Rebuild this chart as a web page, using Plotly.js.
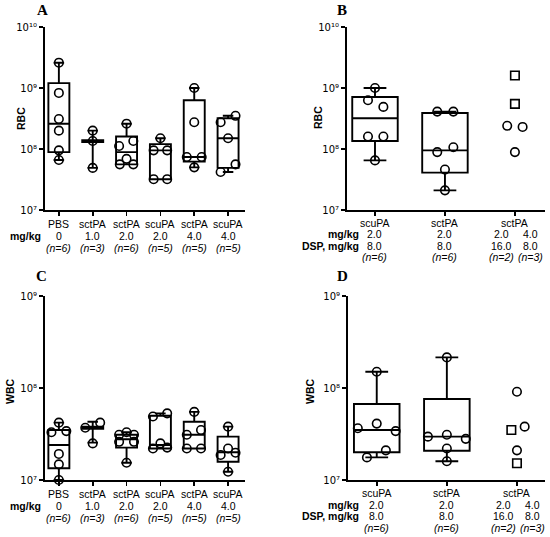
<!DOCTYPE html>
<html>
<head>
<meta charset="utf-8">
<script src="https://cdn.plot.ly/plotly-3.0.1.min.js"></script>
<style>html,body{margin:0;padding:0;background:#fff;}#plot{width:550px;height:537px;}</style>
</head>
<body>
<div id="plot"></div>
<script>
// ---------- DATA ----------
// Panels A & C categories
const namesAC = ['PBS', 'sctPA', 'sctPA', 'scuPA', 'sctPA', 'scuPA'];
const dosesAC = ['0', '1.0', '2.0', '2.0', '4.0', '4.0'];
const nAC = ['(n=6)', '(n=3)', '(n=6)', '(n=5)', '(n=5)', '(n=5)'];

// Panel A: RBC box statistics
const q1A  = [8.9e7, 1.30e8, 5.6e7, 3.2e7, 6.2e7, 4.9e7];
const medA = [2.6e8, 1.35e8, 8.9e7, 9.5e7, 7.4e7, 1.5e8];
const q3A  = [1.2e9, 1.40e8, 1.6e8, 1.2e8, 6.3e8, 3.2e8];
const loA  = [6.6e7, 4.9e7, 5.6e7, 3.2e7, 5.0e7, 4.2e7];
const hiA  = [2.6e9, 2.0e8, 2.6e8, 1.5e8, 1.0e9, 3.5e8];
// Panel A: individual points per group
const ptsA = [
  [2.6e9, 8.3e8, 3.1e8, 2.0e8, 9.5e7, 6.6e7],
  [2.0e8, 1.35e8, 4.9e7],
  [2.6e8, 1.35e8, 1.12e8, 6.9e7, 5.6e7, 5.6e7],
  [1.5e8, 9.5e7, 9.5e7, 3.2e7, 3.2e7],
  [1.0e9, 2.75e8, 7.4e7, 7.4e7, 5.0e7],
  [3.5e8, 2.75e8, 1.5e8, 5.6e7, 4.2e7]
];
const jitA = [
  [0, 0, 0, 0, 0, 0],
  [0, 0, 0],
  [0, 0.2, -0.22, 0, -0.2, 0.2],
  [0, -0.2, 0.2, -0.2, 0.2],
  [0, 0, -0.22, 0.22, 0],
  [0.22, -0.22, 0, 0.22, -0.22]
];

// Panel C: WBC box statistics
const q1C  = [1.34e7, 3.6e7, 2.25e7, 2.2e7, 2.2e7, 1.58e7];
const medC = [2.4e7, 3.7e7, 2.77e7, 2.4e7, 3.1e7, 2.0e7];
const q3C  = [3.5e7, 3.8e7, 3.1e7, 5.0e7, 4.3e7, 2.96e7];
const loC  = [1.0e7, 2.55e7, 1.54e7, 2.2e7, 2.2e7, 1.23e7];
const hiC  = [4.2e7, 4.3e7, 3.3e7, 5.3e7, 5.5e7, 3.8e7];
const ptsC = [
  [4.2e7, 3.4e7, 3.3e7, 1.92e7, 1.48e7, 1.0e7],
  [4.2e7, 3.7e7, 2.5e7],
  [3.3e7, 3.1e7, 3.1e7, 2.6e7, 2.6e7, 1.54e7],
  [5.3e7, 4.9e7, 2.5e7, 2.25e7, 2.2e7],
  [5.5e7, 3.5e7, 3.1e7, 2.2e7, 2.2e7],
  [3.8e7, 2.2e7, 1.98e7, 1.87e7, 1.23e7]
];
const jitC = [
  [0, 0.22, -0.22, 0, 0, 0],
  [0.22, -0.22, 0],
  [0, -0.22, 0.22, -0.22, 0.22, 0],
  [0.2, -0.22, 0, 0.2, -0.22],
  [0, 0.2, -0.22, -0.22, 0.2],
  [0, 0, 0.22, -0.22, 0]
];

// Panels B & D categories
const namesBD = ['scuPA', 'sctPA', 'sctPA'];
const subColsBD = [   // label sub-columns: group, offset, dose, DSP dose, n
  {g: 0, off: 0,     dose: '2.0', dsp: '8.0',  n: '(n=6)'},
  {g: 1, off: 0,     dose: '2.0', dsp: '8.0',  n: '(n=6)'},
  {g: 2, off: -0.19, dose: '2.0', dsp: '16.0', n: '(n=2)'},
  {g: 2, off: 0.22,  dose: '4.0', dsp: '8.0',  n: '(n=3)'}
];

// Panel B: RBC
const q1B  = [1.35e8, 4.1e7];
const medB = [3.2e8, 9.5e7];
const q3B  = [7.1e8, 3.9e8];
const loB  = [6.5e7, 2.1e7];
const hiB  = [1.0e9, 4.1e8];
const ptsB = [
  [1.0e9, 6.3e8, 4.9e8, 1.6e8, 1.6e8, 6.5e7],
  [4.1e8, 4.1e8, 1.07e8, 8.9e7, 4.6e7, 2.1e7]
];
const jitB = [
  [0, -0.1, 0.12, -0.1, 0.12, 0],
  [-0.11, 0.12, 0.12, -0.11, 0, 0]
];
const circB = [2.4e8, 2.3e8, 8.9e7];   // sctPA 4.0 / DSP 8.0
const circBJit = [-0.11, 0.11, 0];
const sqB = [1.6e9, 5.5e8];            // sctPA 2.0 / DSP 16.0
const sqBJit = [0, 0];

// Panel D: WBC
const q1D  = [2.0e7, 2.08e7];
const medD = [3.5e7, 2.96e7];
const q3D  = [6.7e7, 7.6e7];
const loD  = [1.76e7, 1.6e7];
const hiD  = [1.5e8, 2.15e8];
const ptsD = [
  [1.5e8, 4.1e7, 3.65e7, 3.4e7, 2.1e7, 1.76e7],
  [2.15e8, 3.1e7, 2.96e7, 2.8e7, 2.2e7, 1.6e7]
];
const jitD = [
  [0, 0, -0.27, 0.27, 0.13, -0.14],
  [0, 0, -0.27, 0.27, 0, 0]
];
const circD = [9.1e7, 3.8e7, 2.1e7];
const circDJit = [0, 0.11, 0];
const sqD = [3.5e7, 1.52e7];
const sqDJit = [-0.08, 0];

const yTicksRBC = [1e7, 1e8, 1e9, 1e10];
const yTickTextRBC = ['10\u2077', '10\u2078', '10\u2079', '10\u00B9\u2070'];
const yTicksWBC = [1e7, 1e8, 1e9];
const yTickTextWBC = ['10\u2077', '10\u2078', '10\u2079'];

// ---------- BUILD ----------
const W = 550, H = 537;
const px = p => p / W;
const py = p => 1 - p / H;
const FONT = 'Liberation Sans, Arial, sans-serif';
const SERIF = 'Liberation Serif, Times New Roman, serif';

const traces = [];
function boxTrace(xa, ya, q1, med, q3, lo, hi, width) {
  return {
    type: 'box', xaxis: xa, yaxis: ya,
    x: q1.map((_, i) => i),
    q1: q1, median: med, q3: q3, lowerfence: lo, upperfence: hi,
    width: width, whiskerwidth: 0.5,
    boxpoints: false,
    fillcolor: 'rgba(255,255,255,0)',
    line: {color: '#000', width: 1.9},
    hoverinfo: 'skip', showlegend: false
  };
}
function pointTrace(xa, ya, xs, ys, symbol) {
  return {
    type: 'scatter', mode: 'markers', xaxis: xa, yaxis: ya,
    x: xs, y: ys,
    marker: {symbol: symbol, size: 8.5, color: '#000', line: {color: '#000', width: 1.6}},
    hoverinfo: 'skip', showlegend: false, cliponaxis: false
  };
}
function groupPoints(xa, ya, pts, jit) {
  const xs = [], ys = [];
  pts.forEach((arr, g) => arr.forEach((v, k) => { xs.push(g + jit[g][k]); ys.push(v); }));
  return pointTrace(xa, ya, xs, ys, 'circle-open');
}

traces.push(boxTrace('x', 'y', q1A, medA, q3A, loA, hiA, 0.62));
traces.push(groupPoints('x', 'y', ptsA, jitA));
traces.push(boxTrace('x2', 'y2', q1B, medB, q3B, loB, hiB, 0.65));
traces.push(groupPoints('x2', 'y2', ptsB, jitB));
traces.push(pointTrace('x2', 'y2', circBJit.map(o => 2 + o), circB, 'circle-open'));
traces.push(pointTrace('x2', 'y2', sqBJit.map(o => 2 + o), sqB, 'square-open'));
traces.push(boxTrace('x3', 'y3', q1C, medC, q3C, loC, hiC, 0.62));
traces.push(groupPoints('x3', 'y3', ptsC, jitC));
traces.push(boxTrace('x4', 'y4', q1D, medD, q3D, loD, hiD, 0.65));
traces.push(groupPoints('x4', 'y4', ptsD, jitD));
traces.push(pointTrace('x4', 'y4', circDJit.map(o => 2 + o), circD, 'circle-open'));
traces.push(pointTrace('x4', 'y4', sqDJit.map(o => 2 + o), sqD, 'square-open'));

function xAxis(dom, range, n, anchor) {
  return {
    domain: dom, range: range, anchor: anchor,
    showline: true, linecolor: '#000', linewidth: 2,
    ticks: 'outside', ticklen: 4, tickwidth: 1.6, tickcolor: '#000',
    tickmode: 'array', tickvals: Array.from({length: n}, (_, i) => i),
    showticklabels: false, showgrid: false, zeroline: false, fixedrange: true
  };
}
function yAxis(dom, range, tv, tt, anchor) {
  return {
    domain: dom, type: 'log', range: range, anchor: anchor,
    showline: true, linecolor: '#000', linewidth: 2,
    ticks: 'outside', ticklen: 4, tickwidth: 1.6, tickcolor: '#000',
    tickmode: 'array', tickvals: tv, ticktext: tt,
    tickfont: {family: 'DejaVu Sans, sans-serif', size: 10, color: '#000'},
    showgrid: false, zeroline: false, fixedrange: true
  };
}

const ann = [];
function txt(x, y, text, opts, fontOpts) {
  ann.push(Object.assign({
    x: x, y: py(y), xref: 'paper', yref: 'paper', text: text, showarrow: false,
    xanchor: 'center', yanchor: 'middle',
    font: Object.assign({family: FONT, size: 10.5, color: '#000'}, fontOpts || {})
  }, opts || {}));
}
const BOLD = {weight: 'bold'};
const ITAL = {style: 'italic'};
// category labels A & C
[['x', [224, 236, 248]], ['x3', [494, 506, 518]]].forEach(([xr, rows]) => {
  namesAC.forEach((nm, i) => {
    txt(i, rows[0], nm, {xref: xr});
    txt(i, rows[1], dosesAC[i], {xref: xr});
    txt(i, rows[2], nAC[i], {xref: xr}, ITAL);
  });
  txt(px(43), rows[1], 'mg/kg', {xanchor: 'right'}, BOLD);
});
// category labels B & D
[['x2', [223, 234.3, 245.6, 257]], ['x4', [493, 504.5, 516, 527.5]]].forEach(([xr, rows]) => {
  namesBD.forEach((nm, i) => txt(i, rows[0], nm, {xref: xr}));
  subColsBD.forEach(c => {
    const xx = c.g + c.off;
    txt(xx, rows[1], c.dose, {xref: xr});
    txt(xx, rows[2], c.dsp, {xref: xr});
    txt(xx, rows[3], c.n, {xref: xr}, ITAL);
  });
  txt(px(361), rows[1], 'mg/kg', {xanchor: 'right'}, BOLD);
  txt(px(361), rows[2], 'DSP, mg/kg', {xanchor: 'right'}, BOLD);
});
// y titles
txt(px(21), 119, 'RBC', {textangle: -90}, BOLD);
txt(px(318), 118, 'RBC', {textangle: -90}, BOLD);
txt(px(10), 392, 'WBC', {textangle: -90}, BOLD);
txt(px(310), 392, 'WBC', {textangle: -90}, BOLD);
// panel letters
txt(px(42), 10, 'A', {}, {family: SERIF, size: 15, weight: 'bold'});
txt(px(342), 10, 'B', {}, {family: SERIF, size: 15, weight: 'bold'});
txt(px(41), 276, 'C', {}, {family: SERIF, size: 15, weight: 'bold'});
txt(px(342), 276, 'D', {}, {family: SERIF, size: 15, weight: 'bold'});

const layout = {
  width: W, height: H,
  margin: {l: 0, r: 0, t: 0, b: 0, pad: 0},
  paper_bgcolor: '#fff', plot_bgcolor: '#fff',
  showlegend: false,
  font: {family: FONT, color: '#000'},
  xaxis:  xAxis([px(45), px(245)], [-0.41, 5.5], 6, 'y'),
  yaxis:  yAxis([py(210), py(27)], [7, 10], yTicksRBC, yTickTextRBC, 'x'),
  xaxis2: xAxis([px(347), px(545)], [-0.4, 2.43], 3, 'y2'),
  yaxis2: yAxis([py(210), py(27)], [7, 10], yTicksRBC, yTickTextRBC, 'x2'),
  xaxis3: xAxis([px(45), px(245)], [-0.41, 5.5], 6, 'y3'),
  yaxis3: yAxis([py(480), py(296)], [7, 9], yTicksWBC, yTickTextWBC, 'x3'),
  xaxis4: xAxis([px(348), px(545)], [-0.41, 2.4], 3, 'y4'),
  yaxis4: yAxis([py(480), py(296)], [7, 9], yTicksWBC, yTickTextWBC, 'x4'),
  annotations: ann
};

Plotly.newPlot('plot', traces, layout, {displayModeBar: false, staticPlot: true});
</script>
</body>
</html>
